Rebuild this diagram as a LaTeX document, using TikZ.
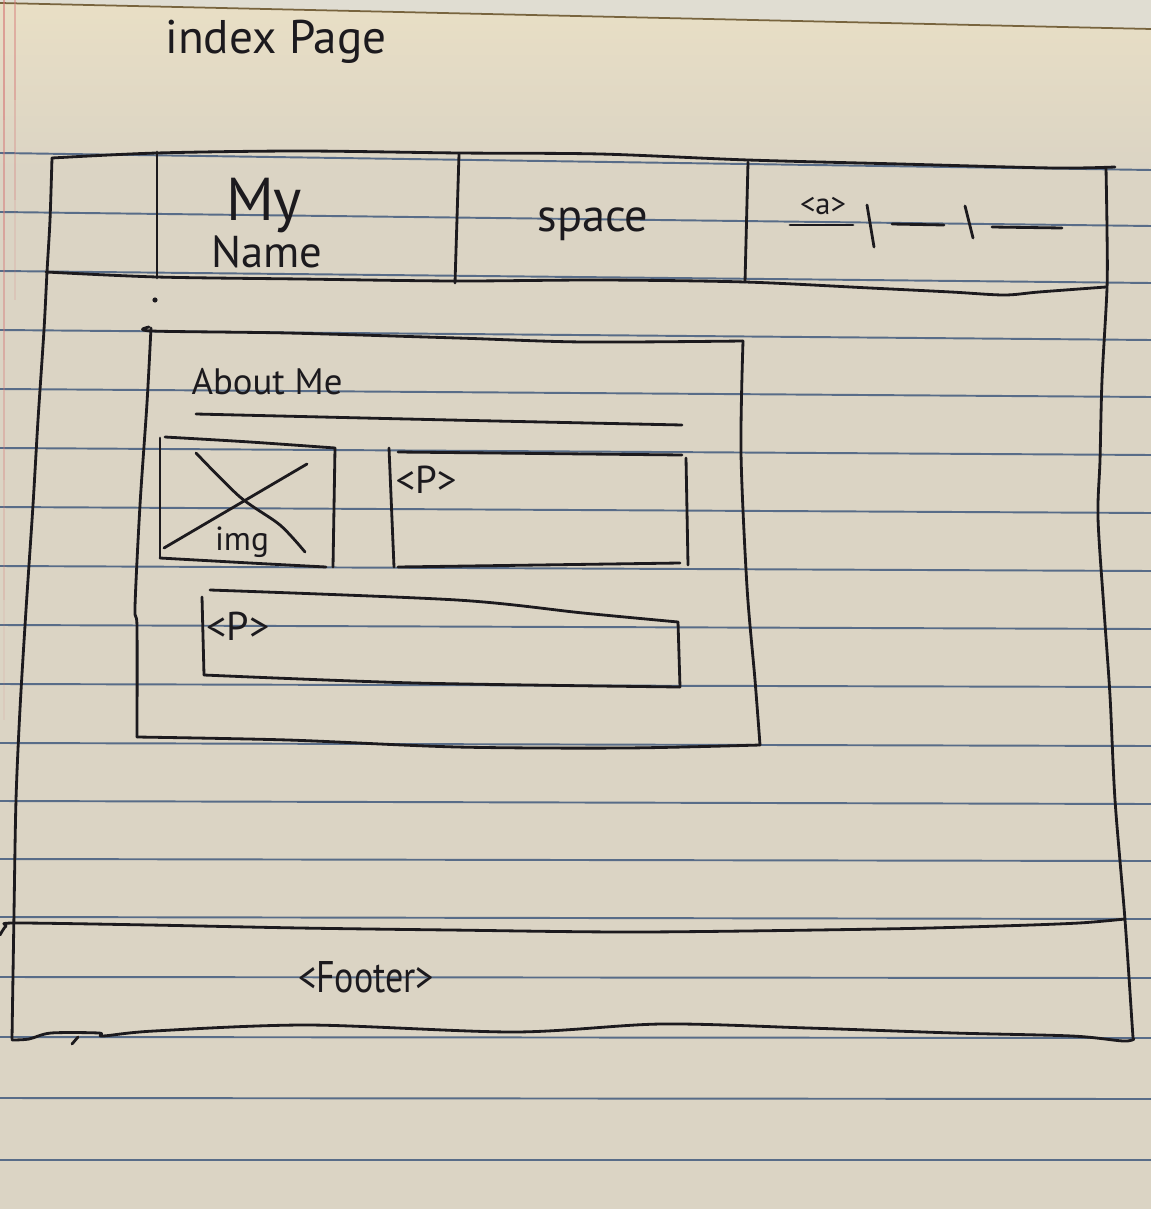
\documentclass[tikz,border=0pt]{standalone}
\usepackage{fontspec}
\setmainfont{PT Sans}
\usepackage{graphicx}
\definecolor{paper}{RGB}{219,212,196}
\definecolor{paperTop}{RGB}{233,223,197}
\definecolor{ink}{RGB}{28,26,30}
\definecolor{ruleBlue}{RGB}{88,108,136}
\definecolor{marginRed}{RGB}{214,118,118}
\definecolor{sheetEdge}{RGB}{120,100,62}
\definecolor{sheetAbove}{RGB}{224,221,210}
\tikzset{
  pen/.style={draw=ink, line width=1.6pt, line cap=round, line join=round},
  ruled/.style={draw=ruleBlue, line width=1.1pt},
  hand/.style={inner sep=0pt, text=ink},
}
\newcommand{\hw}[2]{\resizebox{#1}{!}{#2}}

\begin{document}
\begin{tikzpicture}[x=0.02cm,y=-0.02cm]
\useasboundingbox (0,0) rectangle (1151,1209);

% --- the sheet of legal paper ---
\fill[fill=paper] (0,0) rectangle (1151,1209);
\shade[top color=paperTop, bottom color=paper] (0,0) rectangle (1151,170);
\fill[fill=sheetAbove] (0,0) -- (1151,0) -- (1151,29) -- (0,3) -- cycle;
\draw[draw=sheetEdge, line width=1pt] (0,3) -- (1151,29);

% ruled lines (left height / right height)
\foreach \l/\r in {153/170, 212/226, 271/283, 330/340, 389/397, 448/455,
                   507/513, 566/571, 625/629, 684/687, 743/746, 801/804,
                   859/861, 917/919, 977/978, 1037/1038, 1098/1099, 1160/1160}
  \draw[ruled] (0,\l) -- (1151,\r);

% red margin lines, fading downwards
\foreach \a/\o in {0/0.6, 120/0.5, 240/0.42, 360/0.32, 480/0.22, 600/0.1}
  \draw[draw=marginRed, line width=1pt, opacity=\o] (4,\a) -- (4,\a+120);
\foreach \a/\o in {0/0.45, 100/0.3, 200/0.15}
  \draw[draw=marginRed, line width=0.8pt, opacity=\o] (15,\a) -- (15,\a+100);

% --- page title ---
\node[hand] (title) at (276,42) {\hw{4.42cm}{index Page}};

% --- header bar ---
\draw[pen] plot[smooth] coordinates {(52,158) (157,153) (300,151) (459,153) (600,154) (748,160) (900,164) (1053,168) (1115,167)};
\draw[pen] plot[smooth] coordinates {(46,272) (157,277) (300,279) (455,281) (600,280) (745,282) (870,288) (951,292) (1004,295) (1039,292) (1106,287)};
\draw[pen] (157,152) -- (157,278);
\draw[pen] (459,154) -- (455,283);
\draw[pen] (748,162) -- (745,282);

\node[hand] (my)    at (264,206) {\hw{1.52cm}{My}};
\node[hand] (name)  at (267,252) {\hw{2.22cm}{Name}};
\node[hand] (space) at (593,224) {\hw{2.22cm}{space}};
\node[hand] (alink) at (823,206) {\hw{0.92cm}{<a>}};

% nav links: underlines and separators
\draw[pen] (790,225) -- (853,225);
\draw[pen] (867,205) -- (874,247);
\draw[pen] (892,224) -- (944,225);
\draw[pen] (965,206) -- (973,238);
\draw[pen] (992,227) -- (1062,228);

% --- outer frame ---
\draw[pen] plot[smooth] coordinates {(52,158) (50,220) (47,272) (44,330) (38,420) (33,505) (26,610) (20,709) (16,800) (14,913) (12,1039)};
\draw[pen] plot[smooth] coordinates {(1106,168) (1107,230) (1107,288) (1102,380) (1100,460) (1098,518) (1104,610) (1110,696) (1115,800) (1125,920) (1132,1023) (1133,1038)};
\fill[fill=ink] (155,300) circle (2.6);

% --- About Me section ---
\draw[pen] plot[smooth] coordinates {(149,327) (152,331) (288,333) (457,338) (583,342) (743,341)};
\draw[pen] plot[smooth] coordinates {(151,328) (147,403) (140,505) (135,607) (137,627) (137,737)};
\draw[pen] plot[smooth] coordinates {(743,341) (741,453) (747,587) (755,680) (760,745)};
\draw[pen] plot[smooth] coordinates {(137,737) (288,740) (457,747) (625,748) (760,745)};

\node[hand] (about) at (267,382) {\hw{3.02cm}{About Me}};
\draw[pen] plot[smooth] coordinates {(196,414) (450,420) (682,425)};

% image placeholder
\draw[pen] plot[smooth] coordinates {(165,437) (250,442) (335,448)};
\draw[pen] (160,438) -- (160,558);
\draw[pen] plot[smooth] coordinates {(160,558) (250,563) (326,567)};
\draw[pen] (335,448) -- (333,567);
\draw[pen] plot[smooth] coordinates {(196,453) (240,497) (280,525) (305,552)};
\draw[pen] (164,548) -- (307,464);
\node[hand] (img) at (242,542) {\hw{1.08cm}{img}};

% paragraph beside the image
\draw[pen] (389,448) -- (394,567);
\draw[pen] (398,452) -- (682,455);
\draw[pen] (686,458) -- (688,565);
\draw[pen] (398,567) -- (680,563);
\node[hand] (para1) at (426,480) {\hw{1.22cm}{<P>}};

% paragraph below
\draw[pen] plot[smooth] coordinates {(210,590) (457,600) (583,613) (678,622)};
\draw[pen] (202,597) -- (204,675);
\draw[pen] plot[smooth] coordinates {(204,675) (415,683) (680,687)};
\draw[pen] (678,622) -- (680,687);
\node[hand] (para2) at (238,626) {\hw{1.26cm}{<P>}};

% --- footer ---
\draw[pen] plot[smooth] coordinates {(0,935) (6,926) (15,923) (150,925) (300,928) (450,930) (639,932) (881,929) (1000,926) (1079,923) (1125,919)};
\draw[pen] plot[smooth] coordinates {(12,1040) (29,1039) (51,1033) (99,1033) (103,1036) (154,1031) (308,1025) (514,1032) (661,1024) (808,1028) (954,1033) (1072,1036) (1123,1041) (1134,1039)};
\draw[pen] (72,1044) -- (78,1037);
\node[hand] (footer) at (366,977) {\resizebox{2.72cm}{0.62cm}{<Footer>}};

\end{tikzpicture}
\end{document}
